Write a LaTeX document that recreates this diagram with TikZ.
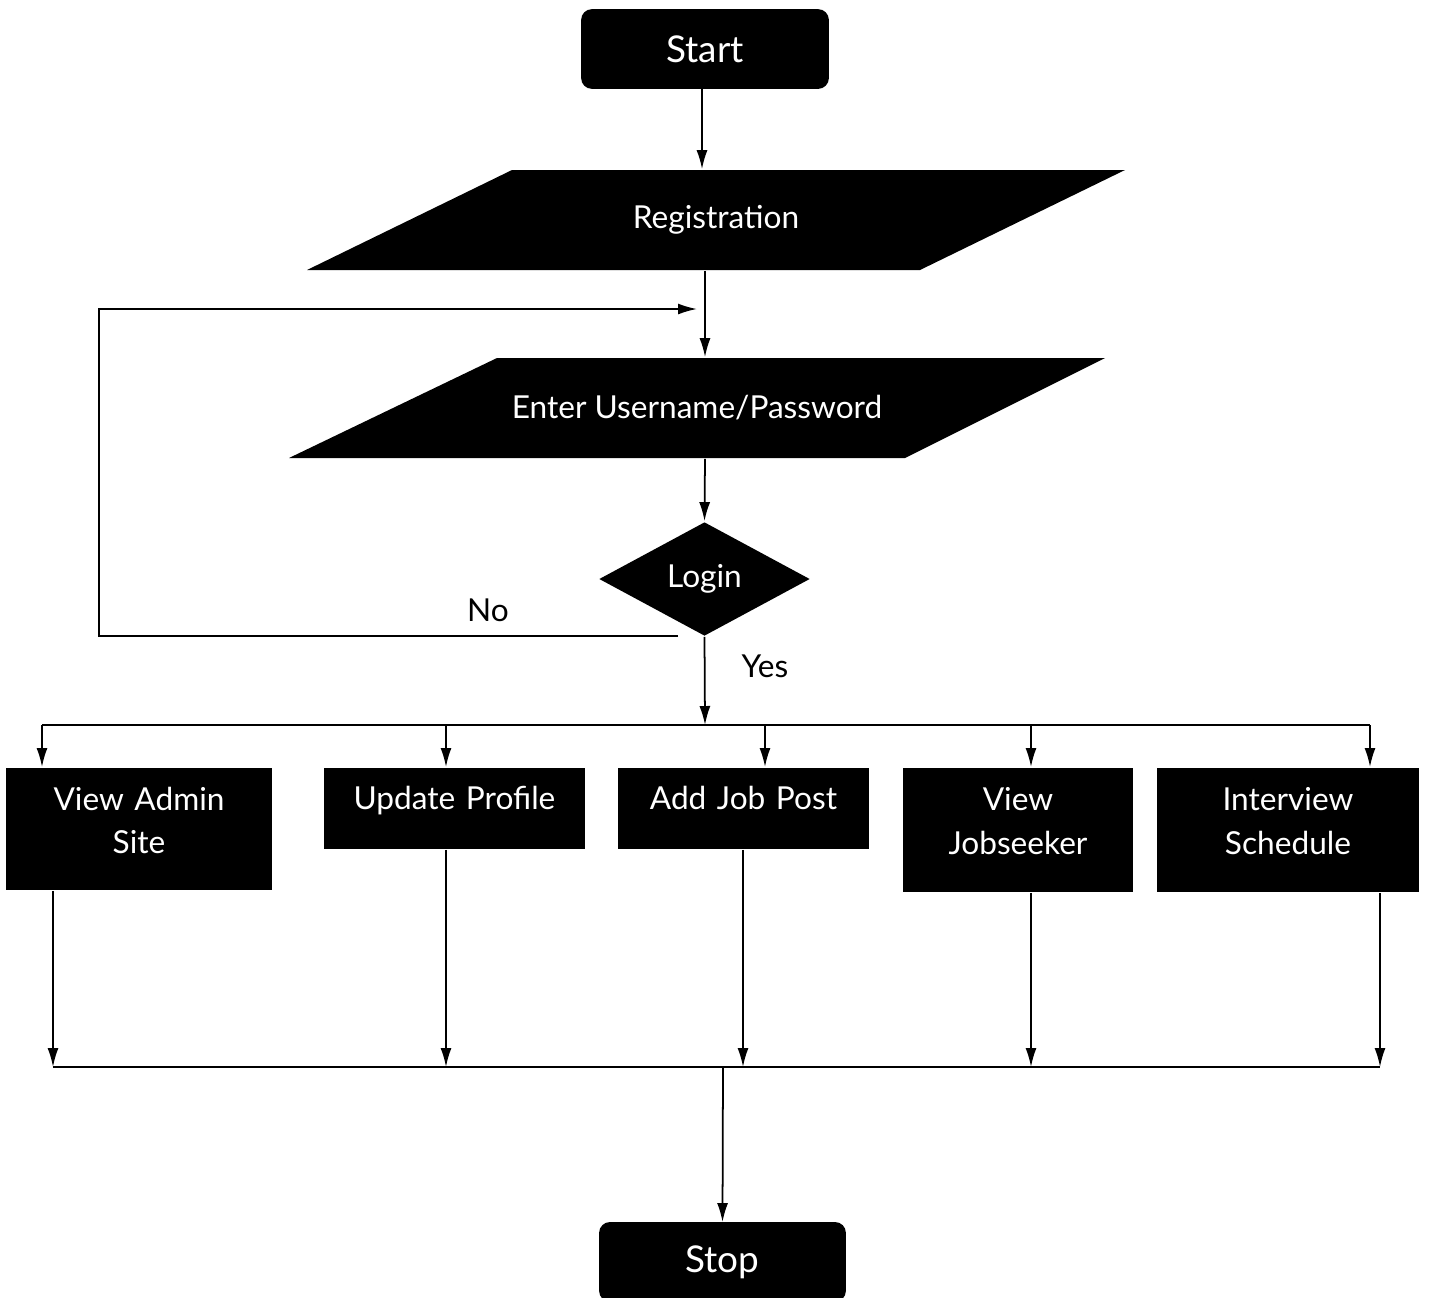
\documentclass[tikz,border=0pt]{standalone}
\usepackage{fontspec}
\setmainfont{Lato}
\usetikzlibrary{shapes.geometric,arrows.meta}

\begin{document}
\begin{tikzpicture}[
    font=\fontsize{18}{25}\selectfont,
    line width=1pt,
    arrow/.style={-{Latex[length=0.38cm,width=0.22cm]}},
    startstop/.style={draw, fill=black, text=white, rounded corners=0.2cm, minimum width=4.92cm, minimum height=1.56cm,
        font=\fontsize{21}{25}\selectfont},
    iotext/.style={text=white, minimum width=12.2cm, minimum height=2cm},
    decision/.style={diamond, fill=black, text=white, inner sep=0pt, minimum width=4.22cm, minimum height=2.28cm},
    process/.style={fill=black, text=white, anchor=north, align=center, text width=4.2cm, text depth=0.42cm},
    twoline/.style={text depth=1.22cm}
]
    \useasboundingbox (0,0) rectangle (28.6,-25.94);
    % Draw the start, input and decision nodes
    \node[startstop] (start) at (14.1,-0.98) {Start};
    \coordinate (regc) at (14.32,-4.4);
    \fill (regc) ++(-4.08,1) -- ++(12.26,0) -- ++(-4.1,-2) -- ++(-12.26,0) -- cycle;
    \node[iotext] (reg) at (regc) {Registration};
    \coordinate (enterc) at (13.94,-8.16);
    \fill (enterc) ++(-4.0,1) -- ++(12.16,0) -- ++(-4.0,-2) -- ++(-12.32,0) -- cycle;
    \node[iotext] (enter) at (enterc) {Enter Username/Password};
    \node[decision] (login) at (14.09,-11.58) {Login};
    % Draw the five process boxes
    \node[process, twoline, minimum width=5.32cm, minimum height=2.44cm] (adm) at (2.78,-15.34) {View Admin\\Site};
    \node[process, minimum width=5.22cm, minimum height=1.62cm] (upd) at (9.09,-15.34) {Update Profile};
    \node[process, minimum width=5.02cm, minimum height=1.62cm] (add) at (14.87,-15.34) {Add Job Post};
    \node[process, twoline, minimum width=4.6cm, minimum height=2.48cm] (vjs) at (20.36,-15.34) {View\\Jobseeker};
    \node[process, twoline, minimum width=5.24cm, minimum height=2.48cm] (ivs) at (25.76,-15.34) {Interview\\Schedule};
    \node[startstop, anchor=north, minimum width=4.9cm] (stop) at (14.45,-24.44) {Stop};
    % Labels
    \node (no) at (9.76,-12.2) {No};
    \node (yes) at (15.3,-13.32) {Yes};
    % Draw the main flow
    \draw[arrow] (14.04,-1.76) -- (14.04,0 |- reg.north);
    \draw[arrow] (14.1,0 |- reg.south) -- (14.1,0 |- enter.north);
    \draw[arrow] (14.1,0 |- enter.south) -- (login.north);
    \draw[arrow] (login.south) -- (14.1,-14.5);
    % Draw the retry loop
    \coordinate (loopa) at (13.56,-12.72);
    \coordinate (loopb) at (13.94,-6.18);
    \draw[arrow] (loopa) -- (1.98,-12.72) -- (1.98,-6.18) -- (loopb);
    % Draw the split bus and its drops
    \draw (0.84,-14.5) -- (27.4,-14.5);
    \foreach \x/\n in {0.84/adm, 8.92/upd, 15.3/add, 20.62/vjs, 27.4/ivs} {
        \draw[arrow] (\x,-14.5) -- (\x,0 |- \n.north);
    }
    % Draw the join bus
    \foreach \x/\n in {1.06/adm, 8.92/upd, 14.86/add, 20.62/vjs, 27.6/ivs} {
        \draw[arrow] (\x,0 |- \n.south) -- (\x,-21.34);
    }
    \draw (1.06,-21.34) -- (27.6,-21.34);
    \draw[arrow] (14.46,-21.34) -- (stop.north);
\end{tikzpicture}
\end{document}
